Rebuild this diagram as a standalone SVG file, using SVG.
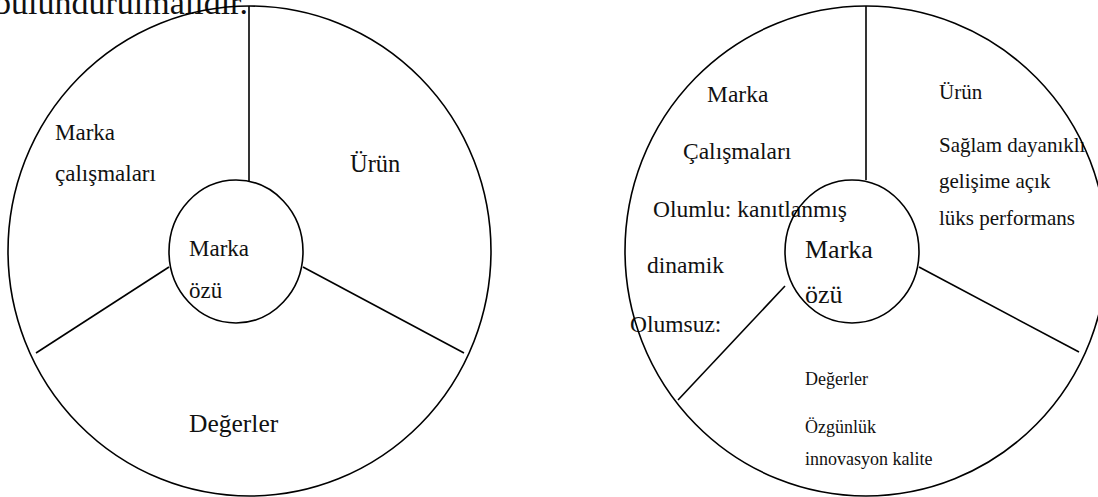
<svg xmlns="http://www.w3.org/2000/svg" width="1098" height="497" viewBox="0 0 1098 497">
<style>
.ln{fill:none;stroke:#000;stroke-width:1.6}
.t{font-family:"Liberation Serif","Times New Roman",serif;fill:#111}
</style>
<rect width="1098" height="497" fill="#fff"/>
<text class="t" x="-6" y="14" font-size="34">bulundurulmalıdır.</text>

<g id="left-diagram">
  <g id="left-outer"><ellipse class="ln" cx="249.5" cy="251" rx="241.5" ry="245"/></g>
  <g id="left-connectors">
    <line class="ln" x1="249" y1="6" x2="249" y2="181"/>
    <line class="ln" x1="169" y1="267" x2="36" y2="353"/>
    <line class="ln" x1="303" y1="267" x2="464" y2="353"/>
  </g>
  <g id="left-core">
    <ellipse class="ln" cx="236" cy="251.5" rx="67" ry="71.5"/>
    <text class="t" x="189" y="256" font-size="23">Marka</text>
    <text class="t" x="189" y="298" font-size="23">özü</text>
  </g>
  <g id="left-marka-calismalari">
    <text class="t" x="55" y="140" font-size="23">Marka</text>
    <text class="t" x="55" y="181" font-size="23">çalışmaları</text>
  </g>
  <g id="left-urun"><text class="t" x="350" y="172" font-size="24.5">Ürün</text></g>
  <g id="left-degerler"><text class="t" x="189" y="432" font-size="25.5">Değerler</text></g>
</g>

<g id="right-diagram">
  <g id="right-marka-calismalari">
    <text class="t" x="707" y="102" font-size="23.5">Marka</text>
    <text class="t" x="683" y="159" font-size="23.5">Çalışmaları</text>
    <text class="t" x="653" y="217" font-size="23.5">Olumlu: kanıtlanmış</text>
    <text class="t" x="647" y="273" font-size="23.5">dinamik</text>
    <text class="t" x="630" y="332" font-size="23.5">Olumsuz:</text>
  </g>
  <g id="right-urun">
    <text class="t" x="939" y="99" font-size="21">Ürün</text>
    <text class="t" x="939" y="152" font-size="21">Sağlam dayanıklı</text>
    <text class="t" x="939" y="188" font-size="21">gelişime açık</text>
    <text class="t" x="939" y="225" font-size="21">lüks performans</text>
  </g>
  <g id="right-degerler">
    <text class="t" x="805" y="385" font-size="18">Değerler</text>
    <text class="t" x="805" y="433" font-size="18">Özgünlük</text>
    <text class="t" x="805" y="465" font-size="18">innovasyon kalite</text>
  </g>
  <g id="right-outer"><ellipse class="ln" cx="866" cy="251" rx="241" ry="245"/></g>
  <g id="right-connectors">
    <line class="ln" x1="866" y1="6" x2="866" y2="180"/>
    <line class="ln" x1="785" y1="286" x2="678" y2="400"/>
    <line class="ln" x1="919" y1="267" x2="1079" y2="352"/>
  </g>
  <g id="right-core">
    <ellipse class="ln" cx="852" cy="251.5" rx="67" ry="71.5"/>
    <text class="t" x="805" y="258" font-size="26">Marka</text>
    <text class="t" x="805" y="303" font-size="26">özü</text>
  </g>
</g>
</svg>
